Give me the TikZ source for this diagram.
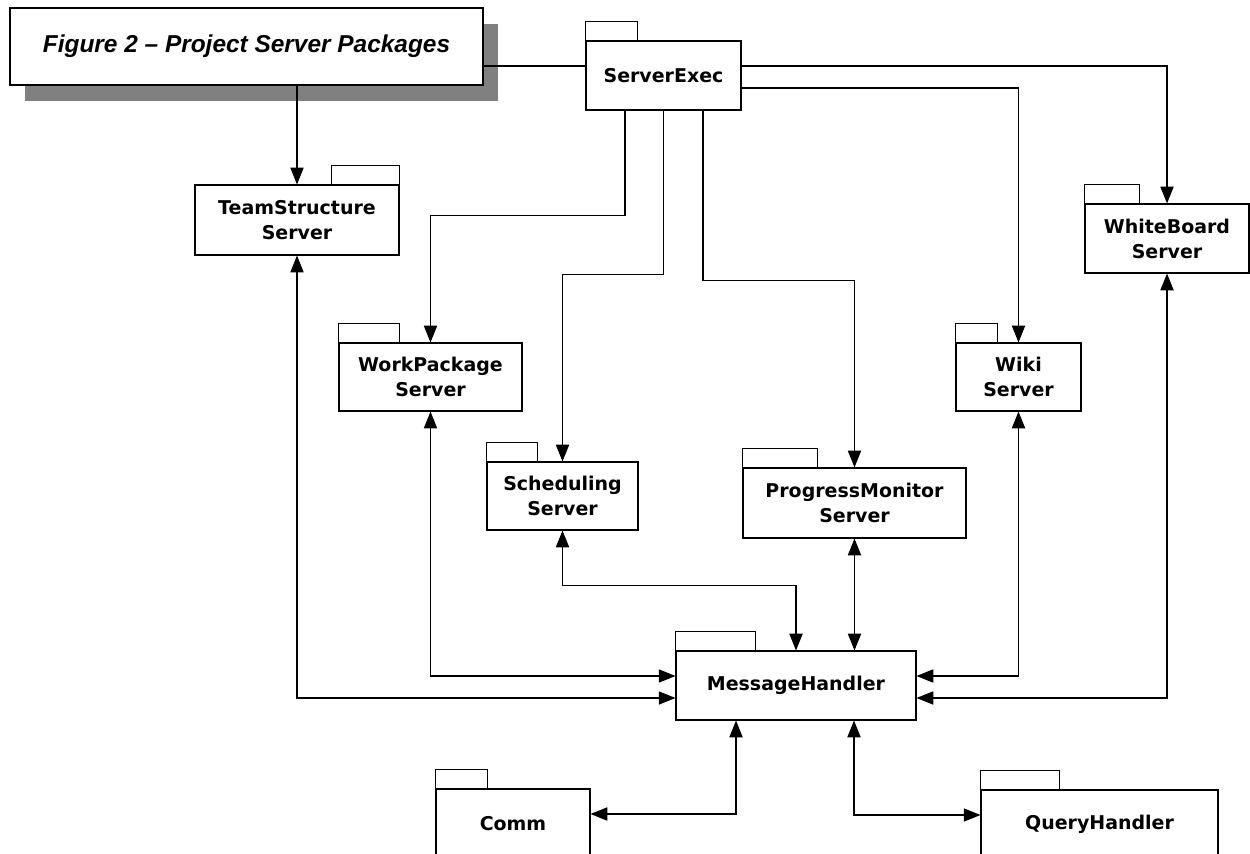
\documentclass[tikz,border=0pt]{standalone}
\usepackage{fontspec}
\setmainfont{DejaVu Sans}
\newfontfamily\titlefont{Liberation Sans}
\usetikzlibrary{arrows.meta, shadows, calc}

\begin{document}
\begin{tikzpicture}[
    x=0.02cm, y=-0.02cm,
    line width=0.65pt,
    pkg/.style={rectangle, draw, fill=white, align=center, inner sep=0pt,
        font=\bfseries\fontsize{10.8}{14.2}\selectfont},
    figtitle/.style={rectangle, draw, fill=white, minimum width=9.46cm, minimum height=1.54cm,
        drop shadow={shadow xshift=0.3cm, shadow yshift=-0.32cm, fill=black!50, opacity=1},
        font=\titlefont\bfseries\itshape\fontsize{13.9}{16}\selectfont},
    arrow/.style={-{Triangle[length=9.5pt,width=7.5pt]}},
    twoway/.style={{Triangle[length=9.5pt,width=7.5pt]}-{Triangle[length=9.5pt,width=7.5pt]}}
]
\useasboundingbox (0,0) rectangle (1250,854);
\clip (0,0) rectangle (1250,854);

% Nodes
\node[figtitle] (title) at (246.5,46.5) {\raisebox{-0.08cm}{Figure 2 – Project Server Packages}};
\node[pkg, minimum width=3.1cm, minimum height=1.38cm] (exec) at (663.5,75.5) {ServerExec};
\node[pkg, minimum width=4.08cm, minimum height=1.4cm] (team) at (297,220) {TeamStructure\\Server};
\node[pkg, minimum width=3.28cm, minimum height=1.38cm] (white) at (1167,238.5) {WhiteBoard\\Server};
\node[pkg, minimum width=3.66cm, minimum height=1.36cm] (work) at (430.5,377) {WorkPackage\\Server};
\node[pkg, minimum width=3.02cm, minimum height=1.36cm] (sched) at (562.5,496) {Scheduling\\Server};
\node[pkg, minimum width=4.46cm, minimum height=1.4cm] (prog) at (854.5,503) {ProgressMonitor\\Server};
\node[pkg, minimum width=2.5cm, minimum height=1.36cm] (wiki) at (1018.5,377) {Wiki\\Server};
\node[pkg, minimum width=4.8cm, minimum height=1.38cm] (msg) at (796,685.5) {MessageHandler};
\node[pkg, minimum width=3.08cm, minimum height=1.38cm] (comm) at (513,823.5) {Comm};
\node[pkg, minimum width=4.74cm, minimum height=1.38cm] (query) at (1099.5,824.5) {QueryHandler};

% Tabs
\foreach \n in {exec, white, work, sched, prog, wiki, msg, comm, query}
  \draw (\n.north west) -- ++(0,-19) -| ($(\n.north west)!0.333!(\n.north east)$);
\draw (team.north east) -- ++(0,-19) -| ($(team.north east)!0.333!(team.north west)$);

% Arrows
\draw ([yshift=-0.39cm]title.east) -- ([yshift=-0.39cm]title.east -| exec.west);
\draw[arrow] (title.south -| team.north) -- (team.north);
\draw[arrow] ([yshift=0.19cm]exec.east) -| (white.north);
\draw[arrow] ([yshift=-0.25cm]exec.east) -| (wiki.north);
\draw[arrow] ([xshift=-0.77cm]exec.south) -- ++(0,105) -| (work.north);
\draw[arrow] (exec.south) -- ++(0,164) -| (sched.north);
\draw[arrow] ([xshift=0.79cm]exec.south) -- ++(0,170) -| (prog.north);

\draw[twoway] (team.south) |- ([yshift=-0.25cm]msg.west);
\draw[twoway] (work.south) |- ([yshift=0.19cm]msg.west);
\draw[twoway] (sched.south) -- ++(0,55) -| (msg.north);
\draw[twoway] (prog.south) -- (prog.south |- msg.north);
\draw[twoway] (wiki.south) |- ([yshift=0.19cm]msg.east);
\draw[twoway] (white.south) |- ([yshift=-0.25cm]msg.east);
\draw[twoway] ([xshift=-1.2cm]msg.south) |- ([yshift=0.19cm]comm.east);
\draw[twoway] ([xshift=1.16cm]msg.south) |- ([yshift=0.19cm]query.west);

\end{tikzpicture}
\end{document}
